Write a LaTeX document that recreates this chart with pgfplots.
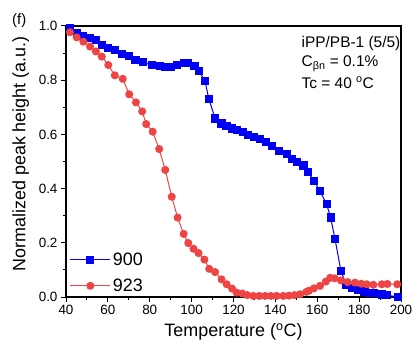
\documentclass[border=0pt]{standalone}
\usepackage{fontspec}
\setmainfont{Liberation Sans}
\usepackage{pgfplots}
\pgfplotsset{compat=1.18}
\definecolor{ored}{RGB}{238,68,68}
\definecolor{oblue}{RGB}{0,0,245}
\begin{document}
\begin{tikzpicture}[x=1bp,y=1bp]
\useasboundingbox (0,0) rectangle (416,342);
\begin{axis}[
 at={(66bp,45bp)}, anchor=south west,
 scale only axis, width=335bp, height=271bp,
 xmin=40, xmax=200, ymin=0, ymax=1,
 xtick={40,60,80,100,120,140,160,180,200},
 ytick={0,0.2,0.4,0.6,0.8,1.0},
 minor x tick num=1, minor y tick num=1,
 tick align=outside, tick pos=left,
 major tick length=5bp, minor tick length=3bp,
 every tick/.style={black, line width=1bp},
 axis line style={line width=1.3bp},
 /pgf/number format/assume math mode=true,
 tick label style={font=\fontsize{13.5}{15}\selectfont},
 yticklabel style={/pgf/number format/.cd, fixed, fixed zerofill, precision=1},
 xlabel={Temperature (\textsuperscript{o}C)},
 ylabel={Normalized peak height (a.u.)},
 label style={font=\fontsize{18}{20}\selectfont},
 xlabel style={at={(axis description cs:0.5,-0.128)}, anchor=center},
 ylabel style={at={(axis description cs:-0.135,0.528)}, anchor=center},
 legend style={at={(axis description cs:0.005,0.0)}, anchor=south west, draw=none, fill=none,
   font=\fontsize{18}{20}\selectfont, row sep=8bp, inner sep=2bp},
 legend cell align=left,
 legend image code/.code={\draw[mark repeat=2,mark phase=2,#1] plot coordinates {(0bp,0bp) (20bp,0bp) (40bp,0bp)};},
]
\addplot[oblue, line width=1bp, mark=square*, mark size=3.6bp, mark options={solid, fill=oblue}] coordinates {
(41.8,0.994) (45.1,0.973) (48.3,0.964) (51.5,0.957) (54.3,0.948) (57.1,0.931) (60.2,0.918) (63.4,0.910)
(66.8,0.898) (69.9,0.889) (73.2,0.876) (76.8,0.867) (80.9,0.855) (84.9,0.852) (87.3,0.848) (89.9,0.848)
(93.2,0.856) (96.3,0.864) (98.4,0.864) (101.4,0.852) (103.5,0.834) (106.4,0.796) (108.2,0.732) (111.2,0.659)
(114.3,0.640) (116.7,0.630) (119.4,0.622) (121.6,0.617) (124.5,0.609) (127.1,0.598) (129.8,0.589) (132.6,0.583)
(135.5,0.571) (138.2,0.558) (141.6,0.539) (145.4,0.528) (147.8,0.509) (150.5,0.499) (153.4,0.485) (155.5,0.462)
(158.4,0.429) (161.3,0.391) (164.5,0.342) (166.4,0.293) (168.5,0.213) (171.3,0.097) (173.8,0.046) (176.6,0.034)
(179.6,0.027) (182.6,0.020) (185.4,0.016) (187.0,0.014) (190.8,0.009) (193.3,0.006) (198.4,0.001)
};
\addlegendentry{900}
\addplot[ored, line width=1bp, mark=*, mark size=3.5bp, mark options={solid, fill=ored}] coordinates {
(41.9,0.977) (45.1,0.958) (48.3,0.942) (51.5,0.924) (54.3,0.906) (57.1,0.887) (60.2,0.856) (63.3,0.818)
(67.1,0.805) (70.2,0.748) (73.4,0.718) (76.4,0.685) (78.3,0.638) (81.4,0.610) (84.5,0.546) (87.4,0.469)
(90.5,0.370) (93.3,0.293) (96.2,0.233) (98.4,0.199) (100.9,0.178) (103.3,0.162) (106.1,0.138) (108.4,0.104)
(111.2,0.092) (114.3,0.065) (116.7,0.047) (119.3,0.031) (121.5,0.016) (124.2,0.013) (126.6,0.007) (129.5,0.004)
(132.3,0.004) (135.1,0.004) (137.9,0.004) (140.6,0.004) (143.8,0.004) (146.5,0.005) (149.1,0.007) (151.8,0.010)
(154.8,0.019) (156.0,0.023) (158.4,0.032) (161.3,0.041) (164.1,0.057) (166.2,0.071) (168.3,0.069) (171.3,0.061)
(174.5,0.055) (178.0,0.053) (181.0,0.049) (183.6,0.047) (186.8,0.045) (190.8,0.047) (193.5,0.048) (198.2,0.047)
};
\addlegendentry{923}
\node[anchor=base west, font=\fontsize{15.5}{18}\selectfont] at (axis description cs:0.693,0.9225) {iPP/PB-1 (5/5)};
\node[anchor=base west, font=\fontsize{15.5}{18}\selectfont] at (axis description cs:0.693,0.8506) {C\textsubscript{βn} = 0.1\%};
\node[anchor=base west, font=\fontsize{15.5}{18}\selectfont] at (axis description cs:0.693,0.771) {Tc = 40 \textsuperscript{o}C};
\end{axis}
\node[anchor=base west, font=\fontsize{15}{18}\selectfont, inner sep=0pt] at (12,318) {(f)};
\end{tikzpicture}
\end{document}
